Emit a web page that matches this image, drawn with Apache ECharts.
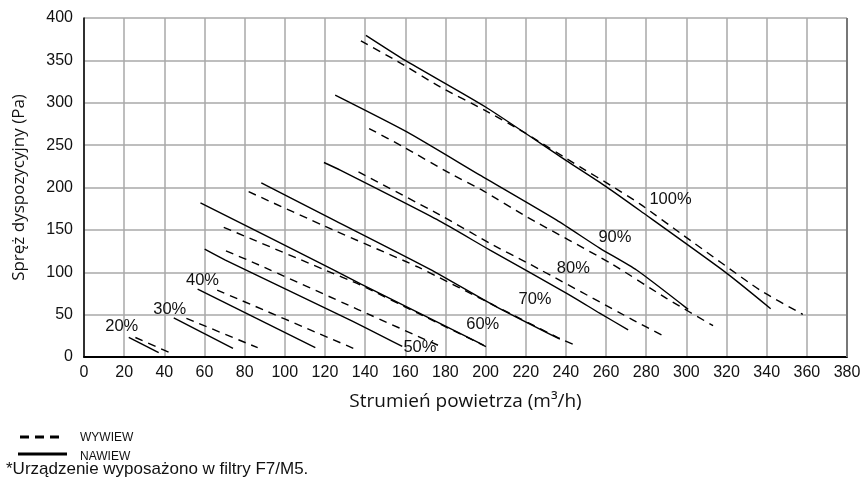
<!DOCTYPE html>
<html><head><meta charset="utf-8">
<script src="https://cdn.jsdelivr.net/npm/echarts@6/dist/echarts.min.js"></script>
<style>html,body{margin:0;padding:0;background:#fff}#c{width:865px;height:482px}</style>
</head><body><div id="c"></div>
<script>
// NAWIEW (supply, solid) curves: [airflow m3/h, pressure Pa]
const nawiew20 = [[22.3,23.2],[37.2,5.1]];
const nawiew30 = [[44.7,46.3],[74.2,10.2]];
const nawiew40 = [[56.6,80.2],[115.2,11.0]];
const nawiew50 = [[60.1,127.3],[70.4,114.4],[132.6,43.6],[158.5,12.5]];
const nawiew60 = [[58.0,182.0],[124.0,103.0],[138.0,86.0],[166.0,53.0],[199.0,14.0]];
const nawiew70 = [[88.3,205.5],[125.0,161.0],[172.4,103.4],[204.0,61.0],[237.0,21.0]];
const nawiew80 = [[119.5,229.5],[127.6,220.5],[175.7,162.3],[202.2,126.1],[240.4,75.1],[257.0,51.5],[271.0,32.0]];
const nawiew90 = [[125.1,309.0],[160.8,265.6],[197.2,214.6],[235.4,161.5],[257.0,128.2],[275.2,102.6],[300.9,56.2]];
const nawiew100 = [[140.4,379.6],[160.0,350.0],[200.0,295.0],[240.0,232.0],[260.0,201.0],[277.0,172.5],[320.0,99.0],[342.0,57.0]];
// WYWIEW (exhaust, dashed) curves
const wywiew20 = [[25.6,23.0],[43.4,4.4]];
const wywiew30 = [[51.0,45.6],[86.5,11.0]];
const wywiew40 = [[66.3,79.0],[134.2,10.2]];
const wywiew50 = [[70.7,125.3],[85.3,110.5],[136.5,56.0],[179.0,11.0]];
const wywiew60 = [[69.6,153.0],[119.3,103.4],[137.6,85.0],[166.0,52.0],[202.0,10.2]];
const wywiew70 = [[82.0,195.0],[124.0,150.0],[166.0,106.5],[205.0,60.0],[236.0,23.0],[245.4,13.0]];
const wywiew80 = [[136.7,218.5],[179.0,165.4],[202.2,134.0],[221.3,110.5],[273.5,43.6],[287.6,26.0]];
const wywiew90 = [[142.0,269.6],[159.1,247.9],[182.3,216.6],[198.9,196.0],[220.5,165.4],[262.0,111.0],[290.1,69.2],[313.3,36.9]];
const wywiew100 = [[137.9,373.0],[155.8,349.3],[177.4,318.7],[199.7,291.0],[218.8,265.6],[247.0,224.4],[263.0,201.5],[277.0,180.4],[298.4,143.8],[336.6,79.0],[358.0,50.3]];

// curve labels
const labelText = ['20%','30%','40%','50%','60%','70%','80%','90%','100%'];
const labelX = [18.8, 42.7, 59.0, 167.3, 198.6, 224.6, 243.7, 264.4, 292.1];
const labelY = [35.9, 56.6, 90.9, 11.2, 38.9, 68.4, 104.7, 141.0, 186.1];

// axes
const xMin = 0, xMax = 380, xStep = 20;
const yMin = 0, yMax = 400, yStep = 50;
const xTitle = 'Strumień powietrza (m³/h)';
const yTitle = 'Spręż dyspozycyjny (Pa)';
const legendLabels = ['WYWIEW', 'NAWIEW'];
const footnote = '*Urządzenie wyposażono w filtry F7/M5.';

const solidCurves = [nawiew20,nawiew30,nawiew40,nawiew50,nawiew60,nawiew70,nawiew80,nawiew90,nawiew100];
const dashedCurves = [wywiew20,wywiew30,wywiew40,wywiew50,wywiew60,wywiew70,wywiew80,wywiew90,wywiew100];

const series = [];
solidCurves.forEach((d,i)=>series.push({
  name: legendLabels[1] + ' ' + labelText[i], type:'line', data:d, showSymbol:false, smooth:0.2,
  silent:true, lineStyle:{color:'#000', width:1.4, type:'solid'}, z:3
}));
dashedCurves.forEach((d,i)=>series.push({
  name: legendLabels[0] + ' ' + labelText[i], type:'line', data:d, showSymbol:false, smooth:0.2,
  silent:true, lineStyle:{color:'#000', width:1.4, type:[8,6], cap:'butt'}, z:3
}));
series.push({
  type:'scatter', symbolSize:0, silent:true, z:5,
  itemStyle:{opacity:1},
  data: labelX.map((x,i)=>[x, labelY[i], labelText[i]]),
  label:{show:true, position:'inside', formatter:p=>p.data[2], fontSize:16.5, color:'#111', opacity:1,
         textBorderWidth:0, fontFamily:'Liberation Sans'}
});

const TXT = '#111';
const chart = echarts.init(document.getElementById('c'), null, {renderer:'canvas'});
chart.setOption({
  animation:false,
  backgroundColor:'#fff',
  grid:{left:84, right:18, top:18, bottom:125, containLabel:false, outerBoundsMode:'none'},
  xAxis:{
    type:'value', min:xMin, max:xMax, interval:xStep,
    axisLine:{show:true, onZero:false, lineStyle:{color:'#000', width:2}},
    axisTick:{show:false},
    axisLabel:{fontSize:16, color:TXT, margin:8, fontFamily:'Liberation Sans'},
    splitLine:{show:true, lineStyle:{color:'#a8a8a8', width:1.5}},
    name:xTitle, nameLocation:'middle', nameGap:35,
    nameTextStyle:{fontFamily:'Open Sans', fontSize:19, color:TXT}
  },
  yAxis:{
    type:'value', min:yMin, max:yMax, interval:yStep,
    axisLine:{show:true, onZero:false, lineStyle:{color:'#000', width:1.5}},
    axisTick:{show:false},
    axisLabel:{fontSize:16, color:TXT, margin:11, fontFamily:'Liberation Sans'},
    splitLine:{show:true, lineStyle:{color:'#a8a8a8', width:1.5}},
    name:yTitle, nameLocation:'middle', nameGap:56,
    nameTextStyle:{fontFamily:'Open Sans', fontSize:17, color:TXT}
  },
  series: series,
  graphic:[
    {type:'line', shape:{x1:847,y1:18,x2:847,y2:357}, style:{stroke:'#777', lineWidth:2}, z:2},
    {type:'line', shape:{x1:20,y1:437,x2:63,y2:437}, style:{stroke:'#000', lineWidth:3, lineDash:[9,6]}},
    {type:'text', x:80, y:438, style:{text:legendLabels[0], font:'12px "Liberation Sans"', fill:TXT, verticalAlign:'middle'}},
    {type:'line', shape:{x1:18,y1:454,x2:67,y2:454}, style:{stroke:'#000', lineWidth:3}},
    {type:'text', x:80, y:457, style:{text:legendLabels[1], font:'12px "Liberation Sans"', fill:TXT, verticalAlign:'middle'}},
    {type:'text', x:6, y:469, style:{text:footnote, font:'17px "Liberation Sans"', fill:TXT, verticalAlign:'middle'}}
  ]
});
</script></body></html>
